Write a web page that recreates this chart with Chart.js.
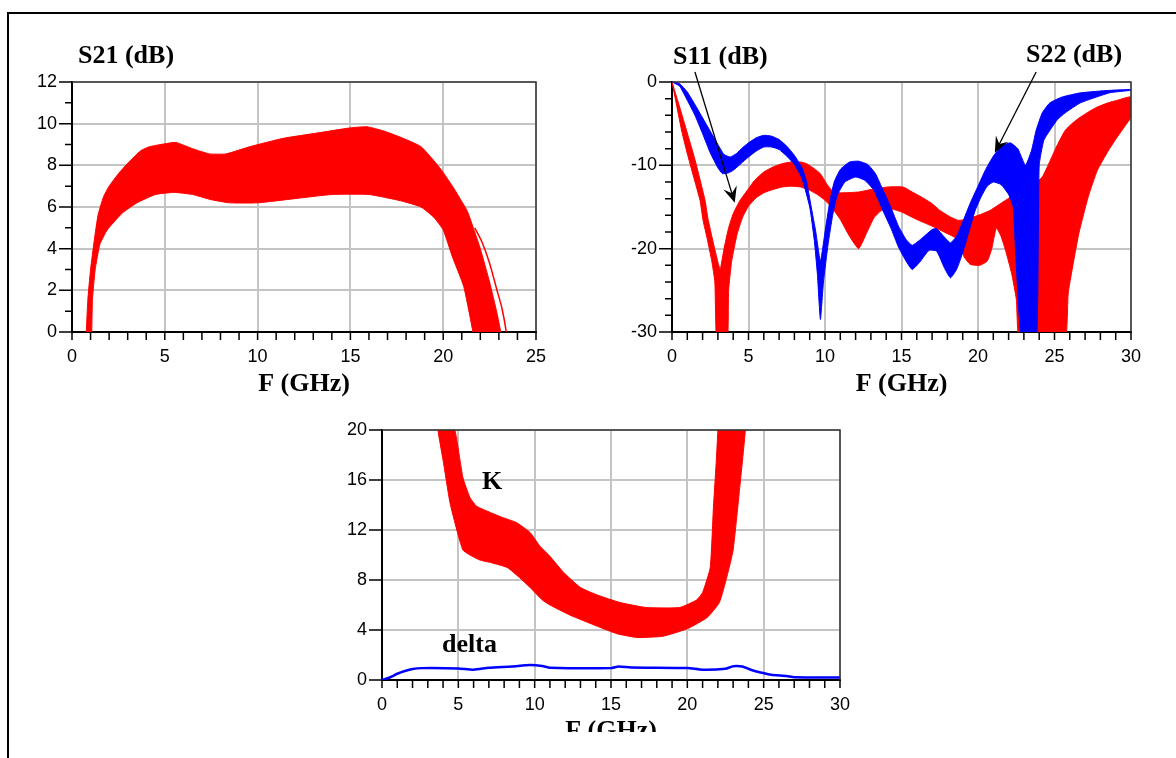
<!DOCTYPE html>
<html>
<head>
<meta charset="utf-8">
<script src="https://cdn.jsdelivr.net/npm/chart.js@4.4.0/dist/chart.umd.min.js"></script>
<style>
  body { margin: 0; background: #fff; width: 1176px; height: 758px; overflow: hidden; position: relative; }
  .frame { position: absolute; left: 7px; top: 12px; width: 1169px; height: 746px; border-top: 2px solid #000; border-left: 2px solid #000; box-sizing: border-box; }
  .box { position: absolute; }
  .box canvas { display: block; }
  .lbl { position: absolute; font: bold 26px "Liberation Serif", serif; line-height: 1; white-space: nowrap; color: #000; }
</style>
</head>
<body>
<div class="frame"></div>
<div class="box" style="left:0;top:0;width:580px;height:410px"><canvas id="c1" width="580" height="410"></canvas></div>
<div class="box" style="left:590px;top:0;width:586px;height:410px"><canvas id="c2" width="586" height="410"></canvas></div>
<div class="box" style="left:300px;top:400px;width:580px;height:332px;overflow:hidden"><canvas id="c3" width="580" height="410"></canvas></div>
<div class="lbl" style="left:78px;top:42px">S21 (dB)</div>
<div class="lbl" style="left:673px;top:43px">S11 (dB)</div>
<div class="lbl" style="left:1026px;top:41px">S22 (dB)</div>
<div class="lbl" style="left:482px;top:468px">K</div>
<div class="lbl" style="left:442px;top:631px">delta</div>

<script>
// S21 spread : upper / lower envelope of the Monte Carlo runs
const s21Upper = [[0.72,-1],[0.85,1.5],[1.0,3.0],[1.2,4.4],[1.4,5.6],[1.7,6.5],[2.0,7.0],[2.5,7.6],[3.0,8.1],[3.7,8.7],[4.2,8.9],[5.1,9.05],[5.6,9.1],[6.5,8.8],[7.4,8.55],[8.3,8.55],[9.6,8.9],[11.4,9.3],[13.2,9.55],[15.0,9.8],[15.9,9.85],[16.8,9.65],[17.7,9.35],[18.8,8.9],[19.8,7.9],[20.5,7.0],[21.3,5.8],[21.7,4.8],[22.0,4.0],[22.5,2.4],[22.9,0.9],[23.1,0],[23.2,-1]];
const s21Lower = [[1.05,-1],[1.1,1.5],[1.25,3.0],[1.5,4.2],[1.9,4.9],[2.7,5.7],[3.5,6.2],[4.5,6.6],[5.5,6.7],[6.5,6.6],[7.5,6.35],[8.5,6.2],[10,6.2],[12,6.4],[14,6.6],[16,6.6],[17.7,6.3],[18.8,6.0],[19.5,5.5],[20.0,4.9],[20.5,3.6],[21.1,2.2],[21.6,0],[21.7,-1]];
const s21Outlier = [[21.7,5.0],[22.1,4.3],[22.5,3.3],[22.9,2.0],[23.15,1.2],[23.4,0],[23.5,-1]];

// S11 (red) and S22 (blue) spreads
const s11Upper = [[0,0],[0.5,-3],[0.98,-6],[1.5,-9.3],[2.16,-14.2],[2.35,-16.4],[2.7,-19.3],[3.0,-21.6],[3.15,-22.5],[3.4,-20],[3.7,-17.5],[4.0,-15.8],[4.45,-14.2],[5.0,-12.8],[5.4,-11.8],[6.0,-10.8],[6.6,-10.2],[7.2,-9.8],[7.8,-9.6],[8.4,-9.6],[8.8,-9.8],[9.3,-10.4],[9.7,-11],[10.1,-12.2],[10.5,-13.1],[11,-13.3],[12.2,-13.2],[13,-12.9],[14.1,-12.6],[15.1,-12.6],[15.7,-13.2],[16.3,-13.8],[17,-14.6],[17.5,-15.4],[18.2,-16.2],[18.7,-16.6],[19.2,-16.5],[19.7,-16.2],[20.3,-15.8],[20.8,-15.4],[21.3,-14.8],[21.8,-14.2],[22.4,-13.5],[23,-13],[23.6,-12.3],[24.2,-11.4],[24.7,-9.5],[25.2,-7.5],[25.7,-5.8],[26.2,-4.9],[26.7,-4.2],[27.3,-3.5],[27.8,-3],[28.5,-2.5],[29.1,-2.2],[30,-1.8]];
const s11Lower = [[0,0],[0.3,-2.8],[0.65,-6],[1.0,-8.6],[1.4,-11.3],[1.83,-14.2],[2.03,-16.6],[2.3,-18.8],[2.6,-21.5],[2.8,-24],[2.95,-32],[3.6,-32],[3.7,-25],[3.9,-21.5],[4.25,-18.3],[4.6,-16.3],[5,-14.9],[5.5,-13.9],[6,-13.3],[6.6,-12.9],[7.2,-12.6],[7.8,-12.5],[8.4,-12.6],[9,-13],[9.5,-13.5],[10,-14.2],[10.5,-15.2],[11,-16.5],[11.6,-18.5],[12.2,-20],[12.7,-18.2],[13.2,-16.3],[13.7,-15.4],[14.3,-15.2],[15,-15.6],[16,-16.5],[17,-17.3],[18,-18.2],[18.7,-18.9],[19.1,-21],[19.5,-21.9],[20.1,-22],[20.6,-21.5],[20.9,-20],[21.2,-17.5],[21.5,-18.5],[21.8,-20.2],[22.2,-23],[22.5,-26],[22.8,-32],[25.6,-32],[25.9,-25.3],[26.3,-21],[26.6,-18.1],[27.2,-13.8],[27.8,-10.6],[28.5,-8.3],[29.1,-6.6],[29.6,-5.3],[30,-4.2]];
const s22Upper = [[0,0],[0.5,-0.2],[1,-1.2],[1.5,-2.7],[2,-4.3],[2.5,-5.9],[3,-7.5],[3.4,-8.7],[3.8,-9],[4.2,-8.6],[4.6,-7.9],[5,-7.3],[5.5,-6.7],[6,-6.4],[6.5,-6.5],[7,-6.9],[7.5,-7.7],[8,-8.8],[8.5,-10.3],[8.8,-12],[9.1,-15],[9.4,-18],[9.7,-21.5],[10,-18],[10.3,-14.5],[10.6,-12],[11,-10.5],[11.6,-9.6],[12.2,-9.5],[12.8,-9.9],[13.3,-11],[13.8,-13],[14.3,-15],[14.8,-17.3],[15.3,-18.9],[15.7,-19.6],[16.3,-18.8],[17,-17.7],[17.3,-17.6],[17.8,-18.6],[18.2,-19.3],[18.6,-18.5],[19,-16.8],[19.5,-14.5],[20,-12.5],[20.5,-10.5],[21,-8.9],[21.5,-7.8],[22.1,-7.3],[22.6,-8],[23.1,-10],[23.5,-8.2],[23.8,-5.8],[24.2,-3.7],[24.7,-2.5],[25.5,-1.8],[26.7,-1.3],[28.6,-1.0],[30,-0.9]];
const s22Lower = [[0,0],[0.5,-0.5],[1,-2.2],[1.5,-4],[2,-6.2],[2.5,-8.5],[3,-10.3],[3.3,-11],[3.7,-10.9],[4,-10.6],[4.5,-9.8],[5,-9],[5.5,-8.3],[6,-7.8],[6.5,-7.8],[7,-8.1],[7.5,-8.9],[8,-9.9],[8.5,-11.6],[9,-15],[9.3,-19],[9.5,-23],[9.7,-28.5],[9.9,-24],[10.2,-19.5],[10.5,-16],[10.8,-13.6],[11.3,-12],[12,-11.4],[12.6,-11.8],[13.2,-13],[13.8,-15.5],[14.3,-17.5],[14.8,-19.8],[15.3,-21.5],[15.7,-22.5],[16.2,-21.6],[16.8,-20.2],[17.3,-20.3],[17.8,-22.3],[18.2,-23.5],[18.6,-22.5],[19,-20.5],[19.4,-18],[19.8,-15.5],[20.2,-13.8],[20.6,-12.5],[21,-12],[21.5,-12.3],[22,-13.5],[22.3,-15],[22.5,-22],[22.9,-32],[23.8,-32],[24,-10],[24.3,-7],[24.7,-5.8],[25.2,-4.5],[25.7,-3.7],[26.7,-2.5],[28.6,-1.3],[30,-1.0]];

// K spread and delta
const kUpper = [[3.3,26],[4.78,20],[5.3,16.2],[5.76,14.6],[6.2,13.9],[7.1,13.4],[7.9,13],[8.8,12.6],[9.7,11.8],[10.35,10.7],[11,9.9],[11.9,8.6],[13,7.4],[14.1,6.8],[15.6,6.2],[17.3,5.8],[19.5,5.8],[20.6,6.4],[21,7.0],[21.5,9.0],[21.7,13.6],[21.9,17.6],[22,20],[22.2,26]];
const kLower = [[3.5,26],[3.67,20],[4.0,17.6],[4.45,14.2],[4.9,12],[5.3,10.4],[5.76,10.0],[6.4,9.6],[7.1,9.4],[8.2,9.0],[9.0,8.2],[9.7,7.4],[10.5,6.4],[11,6.0],[12.3,5.2],[14.1,4.3],[15.4,3.7],[16.7,3.4],[18.4,3.5],[20,4.1],[21.3,5.0],[22.1,6.2],[22.6,8.3],[23.0,10.4],[23.4,15],[23.8,20],[24.0,26]];
const delta = [[0,0],[0.5,0.2],[1,0.5],[1.5,0.72],[2,0.88],[2.6,0.95],[5,0.92],[6,0.82],[7,0.98],[8.5,1.08],[9.7,1.2],[10.5,1.12],[11,0.98],[15,0.95],[15.5,1.08],[16.3,1.0],[20,0.96],[21,0.82],[22.5,0.9],[23,1.1],[23.6,1.08],[24.2,0.8],[24.8,0.6],[25.5,0.42],[26.5,0.32],[27,0.22],[30,0.2]];

const RED = '#ff0000';
const BLUE = '#0000ff';
const GRID = '#c4c4c4';

function pts(arr) { return arr.map(p => ({ x: p[0], y: p[1] })); }
// closed outline : upper envelope left->right, lower envelope back
function band(upper, lower) { return pts(upper.concat(lower.slice().reverse())); }

function bandSet(upper, lower, color) {
  return { data: band(upper, lower), backgroundColor: color, borderColor: color, borderWidth: 1,
           fill: 'shape', pointRadius: 0, tension: 0.15 };
}
function lineSet(arr, color, w) {
  return { data: pts(arr), borderColor: color, borderWidth: w, fill: false, pointRadius: 0, tension: 0.2 };
}

// minor tick marks, plot frame and arrows
const decor = {
  id: 'decor',
  afterDraw(chart, args, o) {
    const { ctx, chartArea: a, scales: { x, y } } = chart;
    ctx.save();
    ctx.strokeStyle = '#333';
    ctx.lineWidth = 1.5;
    ctx.beginPath();
    ctx.moveTo(a.left, a.top); ctx.lineTo(a.right, a.top); ctx.lineTo(a.right, a.bottom);
    ctx.stroke();

    ctx.strokeStyle = '#000';
    ctx.beginPath();
    for (let v = x.min; v <= x.max + 1e-9; v += o.xMinor) {
      const px = x.getPixelForValue(v);
      ctx.moveTo(px, a.bottom); ctx.lineTo(px, a.bottom + 8);
    }
    for (let v = y.min; v <= y.max + 1e-9; v += o.yMinor) {
      const py = y.getPixelForValue(v);
      const major = Math.abs(v % o.yMajor) < 1e-9;
      ctx.moveTo(a.left - (major ? 13 : 7), py); ctx.lineTo(a.left, py);
    }
    ctx.stroke();

    (o.arrows || []).forEach(ar => {
      const x0 = x.getPixelForValue(ar.from[0]), y0 = y.getPixelForValue(ar.from[1]);
      const x1 = x.getPixelForValue(ar.to[0]), y1 = y.getPixelForValue(ar.to[1]);
      const ang = Math.atan2(y1 - y0, x1 - x0);
      ctx.lineWidth = 1.3;
      ctx.beginPath(); ctx.moveTo(x0, y0); ctx.lineTo(x1 - 8 * Math.cos(ang), y1 - 8 * Math.sin(ang)); ctx.stroke();
      ctx.fillStyle = '#000';
      ctx.beginPath();
      ctx.moveTo(x1, y1);
      ctx.lineTo(x1 - 16 * Math.cos(ang) + 7 * Math.sin(ang), y1 - 16 * Math.sin(ang) - 7 * Math.cos(ang));
      ctx.lineTo(x1 - 10 * Math.cos(ang), y1 - 10 * Math.sin(ang));
      ctx.lineTo(x1 - 16 * Math.cos(ang) - 7 * Math.sin(ang), y1 - 16 * Math.sin(ang) + 7 * Math.cos(ang));
      ctx.closePath();
      ctx.fill();
    });
    ctx.restore();
  }
};

function makeOptions(p) {
  return {
    responsive: false,
    animation: false,
    events: [],
    layout: { padding: { left: 0, top: p.top, right: p.right, bottom: p.bottom } },
    plugins: {
      legend: { display: false },
      tooltip: { enabled: false },
      decor: { xMinor: 1, yMinor: p.yMinor, yMajor: p.yStep, arrows: p.arrows }
    },
    scales: {
      x: {
        type: 'linear', min: 0, max: p.xMax,
        afterFit: s => { s.height = 78; s.paddingLeft = 0; s.paddingRight = 0; },
        ticks: { stepSize: 5, autoSkip: false, maxRotation: 0, padding: 14, color: '#000',
                 font: { family: 'Liberation Sans', size: 18 } },
        grid: { color: GRID, lineWidth: 2, drawTicks: false },
        border: { color: '#000', width: 2 },
        title: { display: true, text: 'F (GHz)', color: '#000',
                 font: { family: 'Liberation Serif', size: 26, weight: 'bold' },
                 padding: { top: 0, bottom: p.titlePad } }
      },
      y: {
        type: 'linear', min: p.yMin, max: p.yMax,
        afterFit: s => { s.width = p.yWidth; s.paddingTop = 0; s.paddingBottom = 0; },
        ticks: { stepSize: p.yStep, autoSkip: false, padding: 15, color: '#000',
                 font: { family: 'Liberation Sans', size: 18 } },
        grid: { color: GRID, lineWidth: 2, drawTicks: false },
        border: { color: '#000', width: 2 }
      }
    }
  };
}

new Chart(document.getElementById('c1'), {
  type: 'line',
  data: { datasets: [
    lineSet(s21Outlier, RED, 1.5),
    bandSet(s21Upper, s21Lower, RED)
  ] },
  options: makeOptions({ top: 82, right: 44, bottom: 0, xMax: 25, yMin: 0, yMax: 12, yStep: 2, yMinor: 1, yWidth: 72, titlePad: 10 }),
  plugins: [decor]
});

new Chart(document.getElementById('c2'), {
  type: 'line',
  data: { datasets: [
    bandSet(s22Upper, s22Lower, BLUE),
    bandSet(s11Upper, s11Lower, RED)
  ] },
  options: makeOptions({ top: 82, right: 45, bottom: 0, xMax: 30, yMin: -30, yMax: 0, yStep: 10, yMinor: 2, yWidth: 82, titlePad: 10,
    arrows: [ { from: [1.5, 1.2], to: [4.1, -14.5] }, { from: [23.8, 1.2], to: [21.1, -8.5] } ] }),
  plugins: [decor]
});

new Chart(document.getElementById('c3'), {
  type: 'line',
  data: { datasets: [
    lineSet(delta, BLUE, 2.5),
    bandSet(kUpper, kLower, RED)
  ] },
  options: makeOptions({ top: 30, right: 40, bottom: 52, xMax: 30, yMin: 0, yMax: 20, yStep: 4, yMinor: 4, yWidth: 82, titlePad: 11 }),
  plugins: [decor]
});
</script>
</body>
</html>
